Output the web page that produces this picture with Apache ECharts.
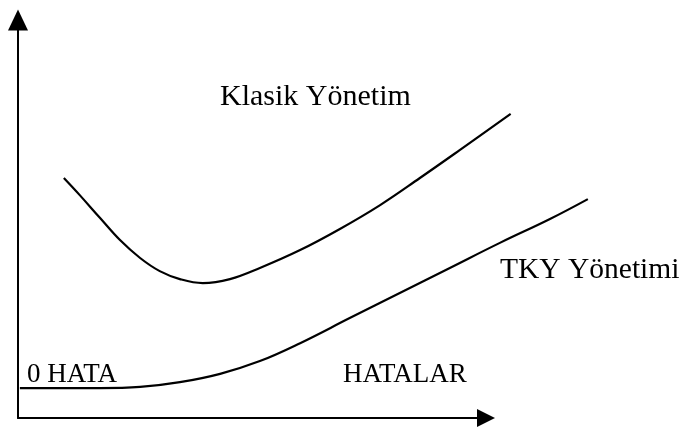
<!DOCTYPE html>
<html>
<head>
<meta charset="utf-8">
<script src="https://cdn.jsdelivr.net/npm/echarts@6/dist/echarts.min.js"></script>
<style>
  html, body { margin: 0; padding: 0; background: #fff; }
  #chart { width: 682px; height: 427px; }
</style>
</head>
<body>
<div id="chart"></div>
<script>
// hata seviyesi (x) ve maliyet (y), 0-100 birim
var klasikX = [9.8, 13.2, 17.5, 21.8, 26.1, 30.3, 34.6, 39.5, 45.3, 51.7, 60.3, 68.8, 77.4, 85.9, 94.4, 105.3]
var klasikY = [60.3, 56.0, 50.3, 44.7, 40.2, 36.9, 34.9, 33.9, 34.9, 37.7, 42.2, 47.5, 53.5, 60.3, 67.3, 76.4]
var tkyX = [0.4, 9.0, 17.5, 26.1, 34.6, 43.2, 51.7, 60.3, 70.9, 81.6, 92.3, 103.0, 113.7, 121.8]
var tkyY = [7.5, 7.5, 7.5, 7.8, 9.0, 11.1, 14.3, 18.8, 25.1, 31.4, 37.7, 44.0, 50.0, 55.0]
var labels = ['Klasik Yönetim', 'TKY Yönetimi', '0 HATA', 'HATALAR']

function pairs(xs, ys) {
  return xs.map(function(x, i) { return [x, ys[i]] })
}

var font = '"Liberation Serif", "Times New Roman", serif'
var hidden = {
  show: false,
  splitLine: { show: false }
}
var chart = echarts.init(document.getElementById('chart'))

chart.setOption({
  animation: false,
  // grid 0: oklu eksenler, grid 1: egriler (ayni olcek, daha genis)
  grid: [
    { left: 18, top: 20, right: 196, bottom: 9 },
    { left: 18, top: 20, right: 9, bottom: 9 }
  ],
  xAxis: [{
    type: 'value',
    gridIndex: 0,
    min: 0,
    max: 100,
    splitLine: { show: false },
    axisTick: { show: false },
    axisLabel: { show: false },
    axisLine: {
      lineStyle: { color: '#000', width: 2 },
      symbol: ['none', 'triangle'],
      symbolSize: [18, 18]
    }
  }, Object.assign({ type: 'value', gridIndex: 1, min: 0, max: 140 }, hidden)],
  yAxis: [{
    type: 'value',
    gridIndex: 0,
    min: 0,
    max: 100,
    splitLine: { show: false },
    axisTick: { show: false },
    axisLabel: { show: false },
    axisLine: {
      lineStyle: { color: '#000', width: 2 },
      symbol: ['none', 'triangle'],
      symbolSize: [20, 21]
    }
  }, Object.assign({ type: 'value', gridIndex: 1, min: 0, max: 100 }, hidden)],
  graphic: [
    { type: 'text', left: 220, top: 82, style: { text: labels[0], font: '30px ' + font, fill: '#000' } },
    { type: 'text', left: 500, top: 255, style: { text: labels[1], font: '29.5px ' + font, fill: '#000' } },
    { type: 'text', left: 27, top: 361, style: { text: labels[2], font: '27px ' + font, fill: '#000' } },
    { type: 'text', left: 343, top: 361, style: { text: labels[3], font: '27px ' + font, fill: '#000' } }
  ],
  series: [
    {
      name: labels[0],
      type: 'line',
      xAxisIndex: 1,
      yAxisIndex: 1,
      data: pairs(klasikX, klasikY),
      smooth: 0.4,
      symbol: 'none',
      lineStyle: { color: '#000', width: 2.2 }
    },
    {
      name: labels[1],
      type: 'line',
      xAxisIndex: 1,
      yAxisIndex: 1,
      data: pairs(tkyX, tkyY),
      smooth: 0.4,
      symbol: 'none',
      lineStyle: { color: '#000', width: 2.2 }
    }
  ]
})
</script>
</body>
</html>
